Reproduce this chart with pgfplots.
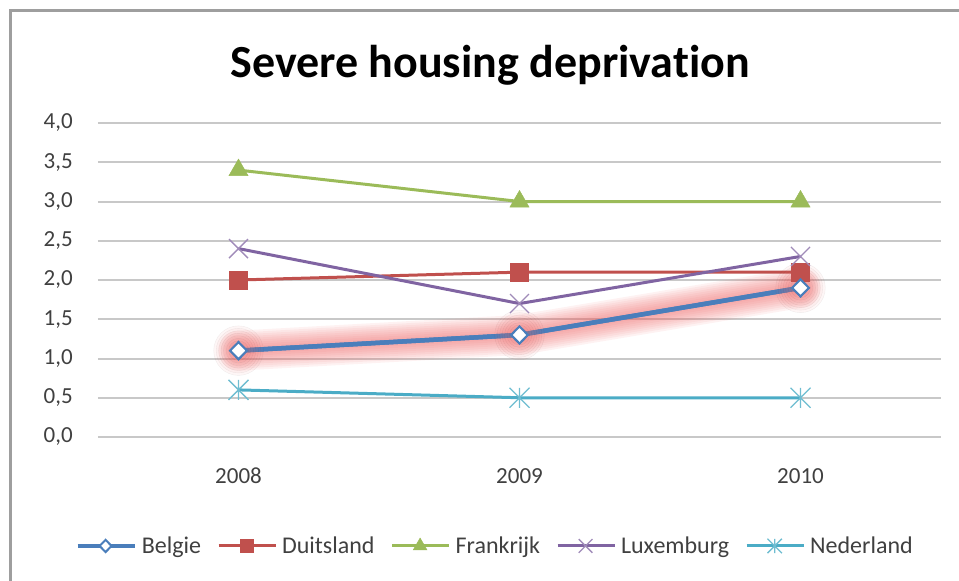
\documentclass[border=0pt]{standalone}
\usepackage{fontspec}
\setmainfont[Ligatures={NoCommon}]{Carlito}
\usepackage{pgfplots}
\pgfplotsset{compat=1.18}
\definecolor{cBel}{HTML}{4A7EBB}
\definecolor{cDui}{HTML}{C0504D}
\definecolor{cFra}{HTML}{9BBB59}
\definecolor{cLux}{HTML}{8064A2}
\definecolor{cNed}{HTML}{4BACC6}
\definecolor{gridgray}{HTML}{C8C8C8}
\definecolor{glowc}{HTML}{EE6A6A}
\definecolor{txt}{HTML}{404040}
\pgfdeclareplotmark{xstar}{%
  \pgfpathmoveto{\pgfqpoint{-\pgfplotmarksize}{-\pgfplotmarksize}}%
  \pgfpathlineto{\pgfqpoint{\pgfplotmarksize}{\pgfplotmarksize}}%
  \pgfpathmoveto{\pgfqpoint{-\pgfplotmarksize}{\pgfplotmarksize}}%
  \pgfpathlineto{\pgfqpoint{\pgfplotmarksize}{-\pgfplotmarksize}}%
  \pgfpathmoveto{\pgfqpoint{0pt}{-\pgfplotmarksize}}%
  \pgfpathlineto{\pgfqpoint{0pt}{\pgfplotmarksize}}%
  \pgfusepathqstroke}
\pgfdeclareplotmark{xcross}{%
  \pgfpathmoveto{\pgfqpoint{-\pgfplotmarksize}{-\pgfplotmarksize}}%
  \pgfpathlineto{\pgfqpoint{\pgfplotmarksize}{\pgfplotmarksize}}%
  \pgfpathmoveto{\pgfqpoint{-\pgfplotmarksize}{\pgfplotmarksize}}%
  \pgfpathlineto{\pgfqpoint{\pgfplotmarksize}{-\pgfplotmarksize}}%
  \pgfusepathqstroke}
\pgfplotstableread{
x Bel Dui Fra Lux Ned
0 1.1 2.0 3.4 2.4 0.6
1 1.3 2.1 3.0 1.7 0.5
2 1.9 2.1 3.0 2.3 0.5
}\data
\begin{document}
\begin{tikzpicture}
\begin{axis}[name=ax, at={(0,0)}, anchor=south west,
  scale only axis, width=843pt, height=314pt,
  xmin=-0.5, xmax=2.5, ymin=0, ymax=4, clip=false,
  xtick={0,1,2}, xticklabels={2008,2009,2010},
  ytick={0,0.5,1,1.5,2,2.5,3,3.5,4},
  ymajorgrids, major grid style={draw=gridgray, line width=2pt},
  axis line style={draw=none}, major tick length=0pt,
  tick label style={font=\fontsize{23}{23}\selectfont, text=txt},
  yticklabel style={anchor=east, inner sep=0pt, xshift=-25pt,
    /pgf/number format/.cd, fixed, fixed zerofill, precision=1, use comma, assume math mode=true},
  xticklabel style={anchor=north, inner sep=0pt, yshift=-31pt},
  legend columns=5,
  legend style={draw=none, fill=none, at={(0.4698,-0.347)}, anchor=center,
    font=\fontsize{24}{24}\selectfont, text=txt,
    nodes={inner sep=0pt, anchor=west},
    /tikz/every odd column/.append style={column sep=5pt},
    /tikz/every even column/.append style={column sep=16pt}},
  legend image code/.code={\draw[mark repeat=2,mark phase=2,#1,/tikz/every mark/.append style={scale=0.72}] plot coordinates {(0pt,0pt)(28pt,0pt)(57pt,0pt)};},
]
% glow behind Belgie
\pgfplotsinvokeforeach{40,36,32,28,24,20,16,12,8}{
  \addplot[forget plot, draw=glowc, opacity=0.085, line width=#1pt, line cap=round, line join=round] table[x=x,y=Bel]{\data};
  \addplot[forget plot, only marks, mark=*, mark size={0.62*#1pt}, mark options={draw=none, fill=glowc, opacity=0.06}] table[x=x,y=Bel]{\data};
}
% series
\addplot[cBel, line width=4.5pt, mark=diamond*, mark size=8.5pt, mark options={fill=white, draw=cBel, line width=2pt, xscale=1.3}] table[x=x,y=Bel]{\data};
\addlegendentry{Belgie}
\addplot[cDui, line width=3pt, mark=square*, mark size=9pt, mark options={fill=cDui, draw=cDui, line width=0.5pt}] table[x=x,y=Dui]{\data};
\addlegendentry{Duitsland}
\addplot[cFra, line width=3pt, mark=triangle*, mark size=11pt, mark options={fill=cFra, draw=cFra, line width=0.5pt}] table[x=x,y=Fra]{\data};
\addlegendentry{Frankrijk}
\addplot[cLux, line width=3pt, mark=xcross, mark size=9.5pt, mark options={draw=cLux!75, line width=1.3pt}] table[x=x,y=Lux]{\data};
\addlegendentry{Luxemburg}
\addplot[cNed, line width=3pt, mark=xstar, mark size=10pt, mark options={draw=cNed!80, line width=1.3pt}] table[x=x,y=Ned]{\data};
\addlegendentry{Nederland}
% Belgie on top
\addplot[forget plot, cBel, line width=4.5pt, mark=diamond*, mark size=8.5pt, mark options={fill=white, draw=cBel, line width=2pt, xscale=1.3}] table[x=x,y=Bel]{\data};
\end{axis}
\node[font=\fontsize{46}{46}\selectfont\bfseries, anchor=base, inner sep=0pt] at ([shift={(392pt,359pt)}]ax.south west) {Severe housing deprivation};
\draw[line width=3pt, color=black!38] ([shift={(1000pt,426pt)}]ax.south west) -- ([shift={(-87pt,426pt)}]ax.south west) -- ([shift={(-87pt,-300pt)}]ax.south west);
\pgfresetboundingbox
\path[use as bounding box] ([shift={(-98pt,-144pt)}]ax.south west) rectangle ([shift={(861pt,437pt)}]ax.south west);
\end{tikzpicture}
\end{document}
